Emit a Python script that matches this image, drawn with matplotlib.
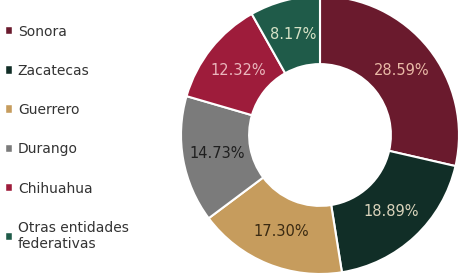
import matplotlib
matplotlib.use('Agg')
import matplotlib.pyplot as plt

estados = ['Sonora', 'Zacatecas', 'Guerrero', 'Durango', 'Chihuahua',
           'Otras entidades\nfederativas']
porcentajes = [28.59, 18.89, 17.30, 14.73, 12.32, 8.17]
colores = ['#6a1a2d', '#112e27', '#c69c5d', '#7b7b7b', '#9e1c3b', '#1f5b49']
colores_texto = ['#e9b9a6', '#d9d3bb', '#3a2a12', '#1f1f1f', '#eab7bd', '#d6e2c6']

plt.rcParams['font.family'] = ['DejaVu Sans']

W, H = 459, 273
fig = plt.figure(figsize=(W / 100, H / 100), dpi=100)

# donut axes placed in pixel coordinates (center ~ (320,136), radius ~139)
cx, cy, r = 320, 138, 139
ax = fig.add_axes([(cx - r) / W, (cy - r) / H, 2 * r / W, 2 * r / H])
wedges, _, autotexts = ax.pie(porcentajes, colors=colores, startangle=90, counterclock=False,
                              autopct='%.2f%%', pctdistance=0.75,
                              wedgeprops=dict(width=0.49, edgecolor='white', linewidth=1.5))
for t, c in zip(autotexts, colores_texto):
    t.set_color(c)
    t.set_fontsize(10.5)
ax.set_xlim(-1, 1)
ax.set_ylim(-1, 1)
ax.set_aspect('equal')
ax.axis('off')

leg = fig.legend(wedges, estados, loc='upper left', bbox_to_anchor=(0.013, 0.91),
                 frameon=False, fontsize=10, handlelength=0.45, handleheight=0.45,
                 handletextpad=0.4, labelspacing=1.82, borderaxespad=0, borderpad=0)
for t in leg.get_texts():
    t.set_color('#333333')
for p in leg.get_patches():
    p.set_edgecolor('white')
    p.set_linewidth(0.3)

fig.savefig('out.png', dpi=100)
